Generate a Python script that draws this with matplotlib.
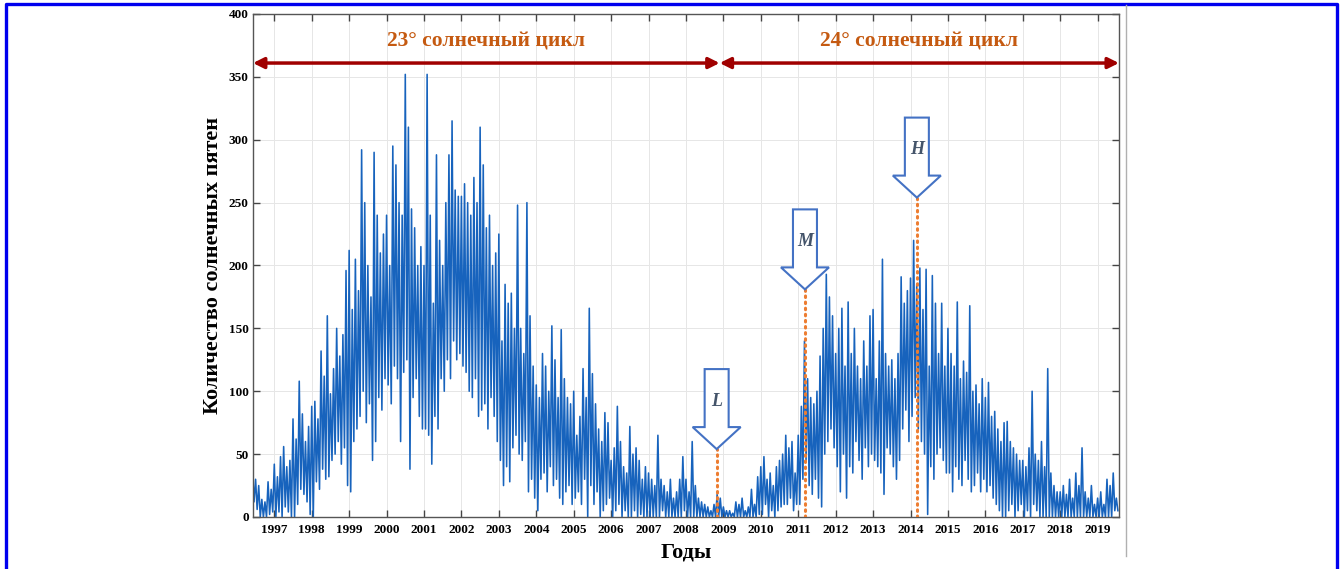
import numpy as np
import matplotlib
matplotlib.use('Agg')
import matplotlib.pyplot as plt
from matplotlib.patches import Polygon
from matplotlib.transforms import ScaledTranslation
from matplotlib.lines import Line2D

plt.rcParams['font.family'] = ['Liberation Serif', 'DejaVu Serif']

# monthly max / min of the daily sunspot number, June 1996 .. July 2019
first_year, first_month = 1996, 6
monthly_high = [
    38, 30, 25, 14, 12, 28, 22,                                   # 1996
    42, 32, 48, 56, 40, 45, 78, 62, 108, 82, 60, 72,             # 1997
    88, 92, 78, 132, 112, 160, 98, 118, 150, 128, 145, 196,      # 1998
    212, 165, 205, 180, 292, 250, 200, 175, 290, 240, 210, 225,  # 1999
    240, 200, 295, 280, 250, 240, 352, 310, 245, 230, 200, 215,  # 2000
    200, 352, 240, 170, 288, 220, 200, 250, 288, 315, 260, 255,  # 2001
    255, 265, 250, 240, 270, 250, 310, 280, 230, 240, 200, 210,  # 2002
    225, 140, 185, 170, 178, 150, 248, 150, 130, 250, 160, 120,  # 2003
    105, 95, 130, 120, 100, 152, 125, 95, 149, 110, 95, 90,      # 2004
    100, 65, 80, 118, 95, 166, 114, 90, 70, 60, 83, 75,          # 2005
    45, 55, 88, 60, 40, 35, 72, 50, 55, 45, 30, 40,              # 2006
    35, 30, 25, 65, 30, 25, 20, 30, 15, 20, 30, 48,              # 2007
    30, 20, 60, 25, 15, 12, 10, 8, 5, 10, 18, 15,                # 2008
    8, 5, 5, 3, 12, 10, 15, 5, 8, 22, 10, 32,                    # 2009
    40, 48, 30, 35, 25, 40, 45, 50, 65, 55, 60, 35,              # 2010
    65, 88, 140, 110, 95, 90, 100, 128, 150, 193, 175, 160,      # 2011
    130, 150, 166, 120, 171, 130, 150, 120, 110, 140, 120, 160,  # 2012
    165, 110, 140, 205, 130, 120, 125, 110, 130, 191, 170, 180,  # 2013
    190, 220, 185, 198, 165, 197, 120, 192, 170, 130, 170, 120,  # 2014
    150, 130, 120, 171, 110, 124, 115, 168, 100, 105, 90, 110,   # 2015
    95, 107, 80, 84, 70, 60, 75, 76, 60, 55, 50, 45,             # 2016
    45, 40, 55, 100, 50, 45, 60, 40, 118, 35, 25, 20,            # 2017
    20, 25, 18, 30, 15, 35, 25, 55, 20, 15, 25, 10,              # 2018
    15, 20, 10, 30, 25, 35, 15,                                   # 2019
]
monthly_low = [
    12, 6, 0, 0, 0, 2, 4,                                         # 1996
    0, 4, 0, 8, 4, 0, 0, 10, 22, 18, 12, 2,                       # 1997
    0, 28, 22, 38, 30, 32, 45, 50, 60, 42, 55, 25,                # 1998
    20, 60, 70, 80, 100, 75, 90, 45, 60, 95, 85, 110,             # 1999
    105, 90, 120, 110, 60, 115, 125, 38, 95, 110, 80, 70,         # 2000
    70, 65, 42, 80, 70, 110, 100, 125, 110, 140, 125, 130,        # 2001
    120, 115, 100, 95, 110, 80, 85, 90, 70, 95, 80, 60,           # 2002
    45, 25, 40, 28, 55, 65, 50, 45, 60, 20, 30, 15,               # 2003
    5, 30, 35, 20, 40, 25, 30, 15, 10, 20, 25, 10,                # 2004
    15, 20, 10, 30, 0, 25, 10, 20, 0, 5, 10, 15,                  # 2005
    0, 5, 10, 0, 5, 0, 0, 5, 0, 2, 0, 0,                          # 2006
    0, 0, 0, 0, 5, 0, 0, 0, 0, 0, 0, 5,                           # 2007
    0, 0, 0, 0, 0, 0, 0, 0, 0, 0, 0, 0,                           # 2008
    0, 0, 0, 0, 0, 0, 0, 0, 0, 0, 0, 2,                           # 2009
    2, 10, 0, 5, 0, 5, 8, 10, 10, 15, 5, 10,                      # 2010
    10, 30, 45, 25, 18, 30, 15, 8, 50, 60, 70, 55,                # 2011
    40, 20, 50, 15, 40, 35, 60, 45, 30, 55, 40, 50,               # 2012
    45, 40, 35, 18, 55, 50, 40, 30, 45, 70, 85, 60,               # 2013
    80, 95, 70, 60, 50, 2, 40, 30, 50, 55, 45, 35,                # 2014
    35, 20, 40, 30, 25, 45, 30, 20, 25, 35, 20, 30,               # 2015
    20, 25, 15, 10, 5, 0, 0, 5, 10, 0, 5, 10,                     # 2016
    0, 5, 0, 10, 5, 0, 0, 0, 0, 0, 0, 0,                          # 2017
    0, 0, 0, 0, 0, 0, 0, 0, 0, 0, 0, 0,                           # 2018
    0, 0, 0, 0, 0, 5, 5,                                          # 2019
]

year_ticks = list(range(1997, 2020))
y_ticks = list(range(0, 401, 50))
x_range = (1996.43, 2019.57)

# solar cycles and the boundary between them
cycle_names = ['23° солнечный цикл', '24° солнечный цикл']
cycle_edges = [1996.43, 2008.9, 2019.57]

# L / M / H events: date and the level the arrow points at
event_names = ['L', 'M', 'H']
event_dates = [2008.82, 2011.18, 2014.17]
event_levels = [54, 181, 254]

# ---- series: high and low of each month alternate -> dense spiky trace
n = len(monthly_high)
t0 = first_year + (first_month - 1) / 12
months = t0 + np.arange(n) / 12
t = np.empty(2 * n)
v = np.empty(2 * n)
t[0::2] = months
t[1::2] = months + 1 / 24
v[0::2] = monthly_high
v[1::2] = monthly_low

fig = plt.figure(figsize=(13.42, 5.69), dpi=100)
ax = fig.add_axes([0.1885, 0.0914, 0.6453, 0.884])

ax.plot(t, v, color='#1763bd', lw=1.15, zorder=2)

ax.set_xlim(*x_range)
ax.set_ylim(0, 400)
ax.set_xticks(year_ticks)
ax.set_yticks(y_ticks)
ax.grid(True, color='#e6e6e6', lw=0.7, zorder=0)
ax.tick_params(direction='in', length=5, width=1, color='#444444',
               top=True, right=True, labelsize=9.5)
ax.tick_params(axis='x', pad=5)
ax.tick_params(axis='y', pad=3)
for lab in ax.get_xticklabels() + ax.get_yticklabels():
    lab.set_fontweight('bold')
for sp in ax.spines.values():
    sp.set_color('#555555')
    sp.set_linewidth(1)

ax.set_xlabel('Годы', fontsize=16, fontweight='bold', labelpad=5)
ax.set_ylabel('Количество солнечных пятен', fontsize=16, fontweight='bold', labelpad=4)

# cycle arrows and names
for name, a, b in zip(cycle_names, cycle_edges[:-1], cycle_edges[1:]):
    ax.annotate('', xy=(b, 361), xytext=(a, 361),
                arrowprops=dict(arrowstyle='<|-|>', color='#a00000', lw=2.5,
                                mutation_scale=16, shrinkA=0, shrinkB=0),
                annotation_clip=False, zorder=5)
    ax.text((a + b) / 2, 378, name, color='#c55a11', fontsize=15.5,
            fontweight='bold', ha='center', va='center', zorder=5)

# block arrows (sizes in inches, anchored at the arrow tip)
arrow_shape = np.array([[0, 0], [-0.24, 0.22], [-0.12, 0.22], [-0.12, 0.80],
                        [0.12, 0.80], [0.12, 0.22], [0.24, 0.22]])
for name, d, lvl in zip(event_names, event_dates, event_levels):
    ax.plot([d, d], [0, lvl], color='#ed7d31', lw=2.2, ls=(0, (0.5, 1.5)),
            dash_capstyle='round', zorder=3)
    tr = fig.dpi_scale_trans + ScaledTranslation(d, lvl, ax.transData)
    ax.add_patch(Polygon(arrow_shape, closed=True, facecolor='white',
                         edgecolor='#4472c4', lw=1.5, transform=tr, zorder=6))
    ax.text(0, 0.48, name, transform=tr, ha='center', va='center',
            fontsize=13, fontweight='bold', fontstyle='italic',
            color='#44546a', zorder=7)

# page frame
fig.add_artist(Line2D([0.0045, 0.0045, 0.9966, 0.9966],
                      [0.0, 0.9938, 0.9938, 0.0], color='#0000ee', lw=2.4))
fig.add_artist(Line2D([1126 / 1342, 1126 / 1342], [1 - 556 / 569, 0.992],
                      color='#b0b0b0', lw=1))

fig.savefig('out.png', dpi=100)
